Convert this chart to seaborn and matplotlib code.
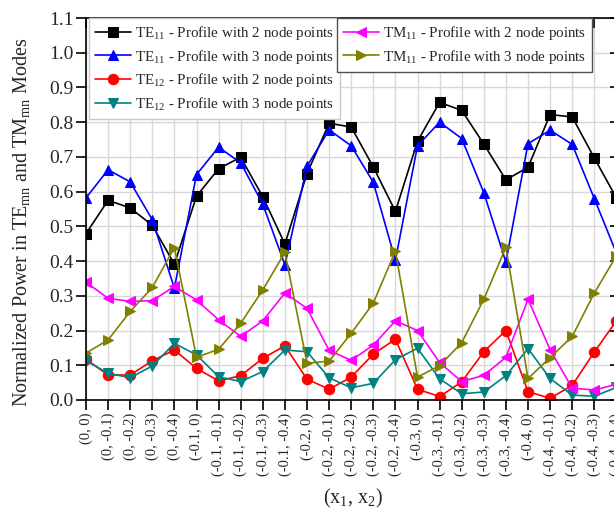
import numpy as np
import pandas as pd
import seaborn as sns
import matplotlib.pyplot as plt

## node point pairs on the x axis
node_pairs = ['(0, 0)', '(0, -0.1)', '(0, -0.2)', '(0, -0.3)', '(0, -0.4)',
              '(-0.1, 0)', '(-0.1, -0.1)', '(-0.1, -0.2)', '(-0.1, -0.3)', '(-0.1, -0.4)',
              '(-0.2, 0)', '(-0.2, -0.1)', '(-0.2, -0.2)', '(-0.2, -0.3)', '(-0.2, -0.4)',
              '(-0.3, 0)', '(-0.3, -0.1)', '(-0.3, -0.2)', '(-0.3, -0.3)', '(-0.3, -0.4)',
              '(-0.4, 0)', '(-0.4, -0.1)', '(-0.4, -0.2)', '(-0.4, -0.3)', '(-0.4, -0.4)']

te11_2 = [0.479, 0.575, 0.553, 0.503, 0.391, 0.587, 0.666, 0.699, 0.585, 0.449,
          0.652, 0.797, 0.786, 0.671, 0.543, 0.745, 0.857, 0.834, 0.737, 0.634,
          0.670, 0.822, 0.815, 0.697, 0.582]
te11_3 = [0.582, 0.663, 0.628, 0.519, 0.322, 0.649, 0.728, 0.683, 0.564, 0.389,
          0.673, 0.778, 0.732, 0.627, 0.402, 0.732, 0.800, 0.753, 0.597, 0.397,
          0.738, 0.777, 0.736, 0.580, 0.423]
te12_2 = [0.117, 0.072, 0.072, 0.113, 0.144, 0.091, 0.055, 0.070, 0.120, 0.156,
          0.060, 0.031, 0.066, 0.132, 0.175, 0.031, 0.010, 0.052, 0.139, 0.200,
          0.024, 0.005, 0.042, 0.138, 0.228]
te12_3 = [0.113, 0.077, 0.064, 0.098, 0.163, 0.130, 0.067, 0.053, 0.082, 0.144,
          0.139, 0.064, 0.035, 0.048, 0.116, 0.149, 0.061, 0.018, 0.023, 0.070,
          0.148, 0.062, 0.014, 0.011, 0.036]
tm11_2 = [0.339, 0.293, 0.284, 0.286, 0.327, 0.288, 0.231, 0.183, 0.228, 0.308,
          0.264, 0.143, 0.114, 0.158, 0.228, 0.200, 0.108, 0.053, 0.071, 0.123,
          0.290, 0.145, 0.034, 0.029, 0.045]
tm11_3 = [0.135, 0.173, 0.255, 0.324, 0.439, 0.123, 0.146, 0.221, 0.317, 0.425,
          0.106, 0.112, 0.192, 0.279, 0.429, 0.066, 0.099, 0.165, 0.290, 0.440,
          0.062, 0.122, 0.183, 0.308, 0.415]

sns.set_theme(style='ticks')
plt.rcParams['font.family'] = ['Liberation Serif', 'DejaVu Serif']
plt.rcParams['mathtext.fontset'] = 'custom'
plt.rcParams['mathtext.rm'] = 'Liberation Serif'
plt.rcParams['mathtext.it'] = 'Liberation Serif:italic'

fig = plt.figure(figsize=(6.14, 5.13), dpi=100)
W, H = 614, 513
ax = fig.add_axes([86 / W, 113 / H, 24.15 * 22.1 / W, 382 / H])

xs = np.arange(len(node_pairs))
series = [
    (te11_2, 'black', 's', r'TE$_{\rm 11}$ - Profile with 2 node points'),
    (te11_3, 'blue', '^', r'TE$_{\rm 11}$ - Profile with 3 node points'),
    (te12_2, 'red', 'o', r'TE$_{\rm 12}$ - Profile with 2 node points'),
    (te12_3, '#008080', 'v', r'TE$_{\rm 12}$ - Profile with 3 node points'),
    (tm11_2, 'magenta', '<', r'TM$_{\rm 11}$ - Profile with 2 node points'),
    (tm11_3, '#808000', '>', r'TM$_{\rm 11}$ - Profile with 3 node points'),
]
handles = []
for vals, col, mk, lab in series:
    sns.lineplot(x=xs, y=vals, ax=ax, color=col, marker=mk, markersize=7.5,
                 markeredgecolor=col, linewidth=1.2, label=lab, legend=False)
    handles.append(ax.lines[-1])

ax.set_xlim(0, 24.15)
ax.set_ylim(0, 1.1)
ax.set_xticks(xs)
ax.set_xticklabels(node_pairs, rotation=90, fontsize=10.5)
ax.set_yticks(np.arange(0, 1.11, 0.1))
ax.set_yticklabels(['%.1f' % v for v in np.arange(0, 1.11, 0.1)], fontsize=14)
ax.grid(True, color='#d8d8d8', linewidth=1.0)
ax.set_axisbelow(True)
for s in ax.spines.values():
    s.set_linewidth(1.2)
    s.set_color('black')
ax.tick_params(axis='both', which='major', length=7, width=1.2, color='black', pad=2)
ax.tick_params(top=True, right=True, direction='out')
# ticks on top and right point inward
for t in ax.xaxis.get_major_ticks():
    t.tick2line.set_marker(3)
for t in ax.yaxis.get_major_ticks():
    t.tick2line.set_marker(0)

ax.set_xlabel(r'(x$_{\rm 1}$, x$_{\rm 2}$)', fontsize=14.5, labelpad=8)
ax.set_ylabel(r'Normalized Power in TE$_{\rm mn}$ and TM$_{\rm mn}$ Modes', fontsize=14.5)
ax.yaxis.set_label_coords(-54 / (24.15 * 22.1), (400 - 222) / 382)

leg_kw = dict(loc='upper left', fontsize=10.8, handlelength=2.4, handletextpad=0.25,
              labelspacing=0.38, borderpad=0.4, borderaxespad=0, frameon=True,
              fancybox=False, framealpha=1)
leg1 = fig.legend(handles=handles[:4], bbox_to_anchor=(89 / W, 1 - 18 / H), **leg_kw)
leg1.get_frame().set_edgecolor('#c8c8c8')
leg1.get_frame().set_linewidth(1.0)
leg2 = fig.legend(handles=handles[4:], bbox_to_anchor=(337 / W, 1 - 18 / H), **leg_kw)
leg2.get_frame().set_edgecolor('#505050')
leg2.get_frame().set_linewidth(1.0)

fig.savefig('out.png', dpi=100)
